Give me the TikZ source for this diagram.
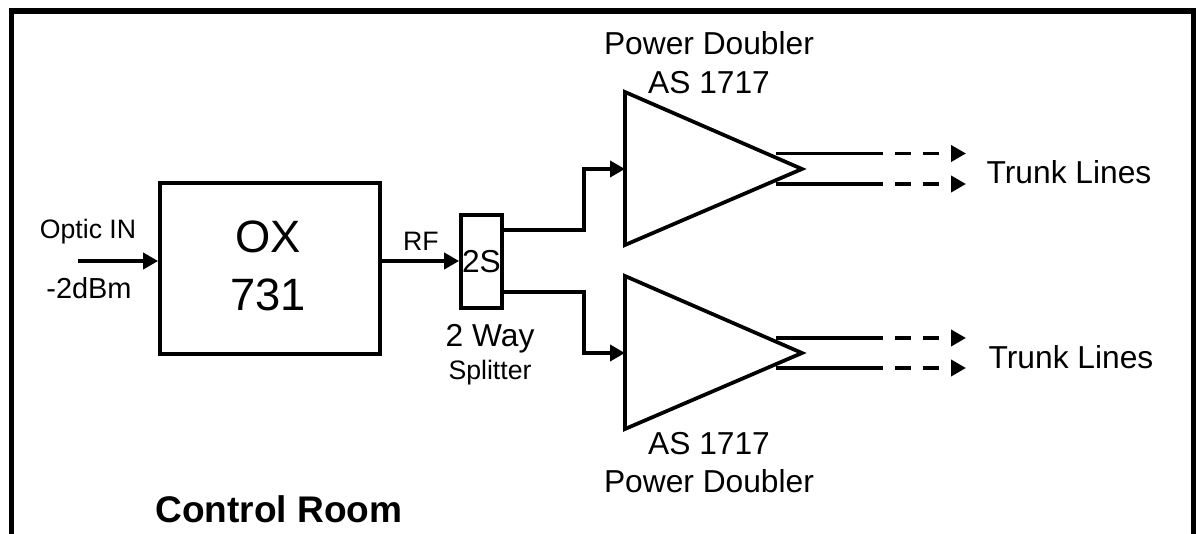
\documentclass[tikz,border=0pt]{standalone}
\usepackage{fontspec}
\setmainfont{Liberation Sans}
\usetikzlibrary{arrows.meta}

\tikzset{every picture/.style={line width=2.8pt}}
\tikzset{
	block/.style={draw, inner sep=0pt, anchor=center},
	wire/.style={line width=2.8pt, line join=miter},
	feed/.style={wire, -{Triangle[length=11.25pt,width=12pt]}},
	trunk/.style={feed, dash pattern=on 12pt off 9pt},
	frame/.style={line width=3.9pt, line join=miter},
	lbl/.style={anchor=base, inner sep=0pt},
	bigtext/.style={lbl, font=\fontsize{34}{40}\selectfont},
	midtext/.style={lbl, font=\fontsize{23.8}{28}\selectfont},
	smalltext/.style={lbl, font=\fontsize{20}{24}\selectfont},
	roomtext/.style={lbl, font=\fontsize{27.8}{33}\selectfont\bfseries}}

\begin{document}
\begin{tikzpicture}[x=0.75pt,y=0.75pt,yscale=-1,xscale=1]
	\useasboundingbox (0,0) rectangle (1196,534);

	%Outer frame, open at the bottom
	\coordinate (frameBL) at (11.5,534);
	\coordinate (frameTL) at (11.5,11);
	\coordinate (frameTR) at (1194,11);
	\coordinate (frameBR) at (1194,534);
	\draw [frame] (frameBL) -- (frameTL) -- (frameTR) -- (frameBR);

	%Receiver and splitter
	\node [block, wire, minimum width=165pt, minimum height=128.25pt] (ox) at (270,268.5) {};
	\node [block, wire, minimum width=30.75pt, minimum height=69.75pt] (split) at (481.5,261.5) {};

	%Amplifier 1
	\coordinate (ampAtop) at (625,92);
	\coordinate (ampAbot) at (625,245);
	\coordinate (ampAtip) at (802,169);
	\draw [wire] (ampAtop) -- (ampAtip) -- (ampAbot) -- cycle;

	%Amplifier 2
	\coordinate (ampBtop) at (625,276);
	\coordinate (ampBbot) at (625,429);
	\coordinate (ampBtip) at (802,353);
	\draw [wire] (ampBtop) -- (ampBtip) -- (ampBbot) -- cycle;

	%Input and RF feed
	\coordinate (optic) at (78,261);
	\draw [feed] (optic) -- (optic -| ox.west);
	\draw [feed] (ox.east |- optic) -- (split.west |- optic);

	%Splitter outputs
	\coordinate (ampAin) at (625,169);
	\coordinate (ampBin) at (625,353);
	\coordinate (elbowA) at (584,230);
	\coordinate (elbowB) at (584,292);
	\draw [feed] (split.east |- elbowA) -- (elbowA) -- (elbowA |- ampAin) -- (ampAin);
	\draw [feed] (split.east |- elbowB) -- (elbowB) -- (elbowB |- ampBin) -- (ampBin);

	%Trunk outputs, amplifier 1
	\coordinate (outA1) at (776,153.5);
	\coordinate (midA1) at (867,153.5);
	\coordinate (endA1) at (966,153.5);
	\coordinate (outA2) at (776,184);
	\coordinate (midA2) at (867,184);
	\coordinate (endA2) at (966,184);
	\draw [wire] (outA1) -- (midA1);
	\draw [trunk] (midA1) -- (endA1);
	\draw [wire] (outA2) -- (midA2);
	\draw [trunk] (midA2) -- (endA2);

	%Trunk outputs, amplifier 2
	\coordinate (outB1) at (776,338);
	\coordinate (midB1) at (867,338);
	\coordinate (endB1) at (966,338);
	\coordinate (outB2) at (776,368);
	\coordinate (midB2) at (867,368);
	\coordinate (endB2) at (966,368);
	\draw [wire] (outB1) -- (midB1);
	\draw [trunk] (midB1) -- (endB1);
	\draw [wire] (outB2) -- (midB2);
	\draw [trunk] (midB2) -- (endB2);

	% Text Node
	\node [smalltext] (opticIn) at (88,239) {Optic IN};
	% Text Node
	\node [lbl, font=\fontsize{21.7}{25}\selectfont] (level) at (89,299) {-2dBm};
	% Text Node
	\node [bigtext] (oxName) at (268,253) {OX};
	% Text Node
	\node [bigtext] (oxNum) at (268,311) {731};
	% Text Node
	\node [smalltext] (rf) at (421,251) {RF};
	% Text Node
	\node [midtext] (splitName) at (481.5,273) {2S};
	% Text Node
	\node [midtext] (twoWay) at (490,347) {2 Way};
	% Text Node
	\node [smalltext] (splitter) at (490,380) {Splitter};
	% Text Node
	\node [midtext] (doublerA) at (709,55) {Power Doubler};
	% Text Node
	\node [midtext] (modelA) at (709,94) {AS 1717};
	% Text Node
	\node [midtext] (modelB) at (709,455) {AS 1717};
	% Text Node
	\node [midtext] (doublerB) at (709,493) {Power Doubler};
	% Text Node
	\node [midtext] (trunkA) at (1069,184) {Trunk Lines};
	% Text Node
	\node [midtext] (trunkB) at (1071,369) {Trunk Lines};
	% Text Node
	\node [roomtext] (room) at (279,522) {Control Room};

\end{tikzpicture}
\end{document}
